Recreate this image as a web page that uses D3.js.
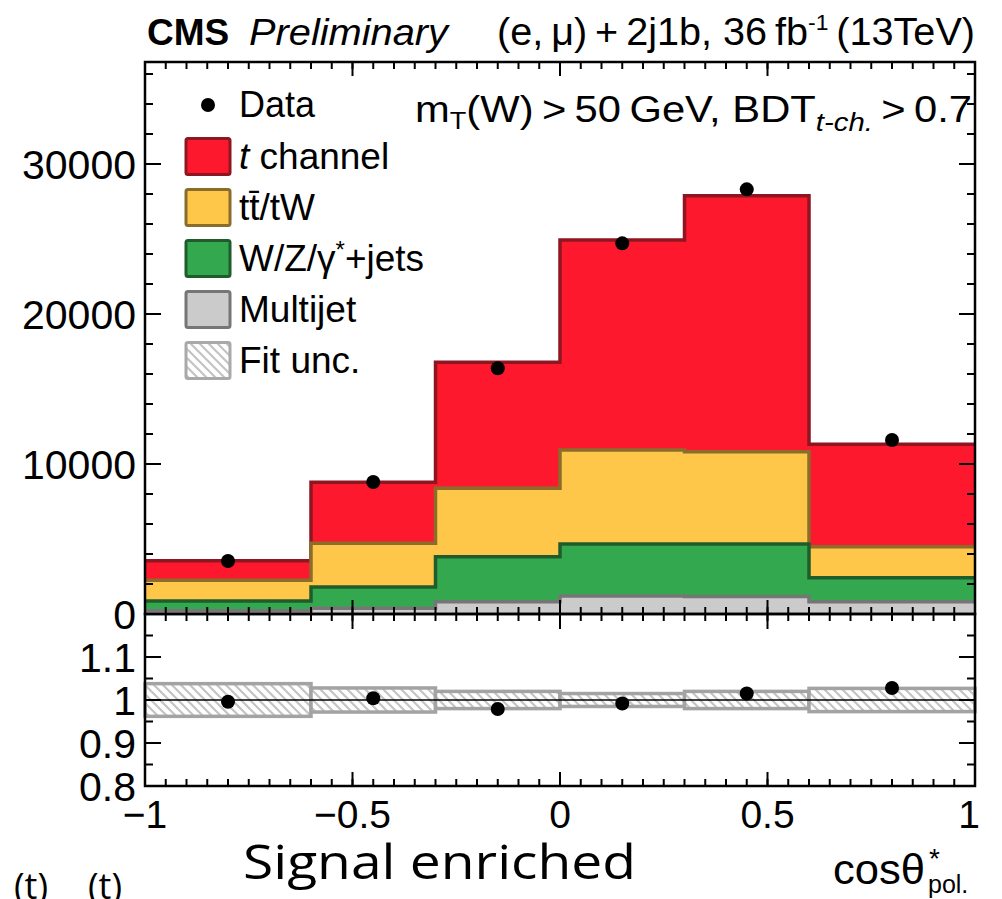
<!DOCTYPE html>
<html>
<head>
<meta charset="utf-8">
<title>cos theta pol - signal enriched</title>
<script src="https://d3js.org/d3.v7.min.js"></script>
<style>
  body { margin: 0; background: #fff; }
  text { font-family: "Liberation Sans", Arial, Helvetica, sans-serif; fill: #000; }
</style>
</head>
<body>
<div id="chart"></div>
<script>
"use strict"
// bin edges of cos theta*
const binEdges = [-1, -0.6, -0.3, 0, 0.3, 0.6, 1];
const dataX = [-0.8, -0.45, -0.15, 0.15, 0.45, 0.8];
// process yields per bin (not stacked)
const multijet = [220, 380, 820, 1200, 1160, 820];
const wzJets = [650, 1420, 3000, 3470, 3510, 1600];
const ttbarTW = [1380, 2910, 4560, 6260, 6150, 2070];
const tChannel = [1300, 4070, 8400, 14000, 17070, 6820];
const dataCounts = [3530, 8800, 16380, 24710, 28310, 11600];
// ratio panel
const ratioValues = [0.996, 1.004, 0.979, 0.992, 1.015, 1.028];
const ratioErr = [0.011, 0.006, 0.005, 0.004, 0.004, 0.006];
const fitUnc = [0.038, 0.028, 0.02, 0.015, 0.02, 0.027];
// ticks
const yTicksMain = [0, 10000, 20000, 30000];
const yTicksRatio = [0.8, 0.9, 1, 1.1];
const xTicks = [-1, -0.5, 0, 0.5, 1];

const W = 1002, H = 899;
const padL = 145, padR = 975, padTop = 62, padMid = 614, padBot = 786;

const svg = d3.select('#chart').append('svg')
  .attr('width', W).attr('height', H);
svg.append('rect').attr('width', W).attr('height', H).attr('fill', '#fff');

const x = d3.scaleLinear().domain([-1, 1]).range([padL, padR]);
const y = d3.scaleLinear().domain([0, 36800]).range([padMid, padTop]);
const yr = d3.scaleLinear().domain([0.8, 1.2]).range([padBot, padMid]);

const defs = svg.append('defs');
const hatch = defs.append('pattern').attr('id', 'hatch')
  .attr('patternUnits', 'userSpaceOnUse').attr('width', 9).attr('height', 9);
hatch.append('rect').attr('width', 9).attr('height', 9).attr('fill', '#fff');
hatch.append('path').attr('d', 'M0,0L9,9M-3,6L3,12M6,-3L12,3')
  .attr('stroke', '#c4c4c4').attr('stroke-width', 2.2);
defs.append('clipPath').attr('id', 'clipMain').append('rect')
  .attr('x', padL).attr('y', padTop).attr('width', padR - padL).attr('height', padMid - padTop);

// stacked histograms
const keys = ['multijet', 'wz', 'tt', 'tch'];
const rows = binEdges.slice(0, -1).map((e, i) => ({
  multijet: multijet[i], wz: wzJets[i], tt: ttbarTW[i], tch: tChannel[i]
}));
const stacked = d3.stack().keys(keys)(rows);
const styles = {
  multijet: { fill: '#cbcbcb', stroke: '#767676' },
  wz: { fill: '#34a84e', stroke: '#1f5c2c' },
  tt: { fill: '#fec74a', stroke: '#8b6d2b' },
  tch: { fill: '#fe182d', stroke: '#8e1620' }
};

const gMain = svg.append('g').attr('clip-path', 'url(#clipMain)');
const area = d3.area().curve(d3.curveStepAfter)
  .x(d => x(d.e)).y0(y(0)).y1(d => y(d.v));
const line = d3.line().curve(d3.curveStepAfter)
  .x(d => x(d.e)).y(d => y(d.v));

stacked.slice().reverse().forEach(layer => {
  const pts = binEdges.map((e, i) => ({ e: e, v: layer[Math.min(i, layer.length - 1)][1] }));
  gMain.append('path').attr('d', area(pts)).attr('fill', styles[layer.key].fill);
  gMain.append('path').attr('d', line(pts)).attr('fill', 'none')
    .attr('stroke', styles[layer.key].stroke).attr('stroke-width', 3.5);
});

// data points main
svg.append('g').selectAll('circle').data(dataCounts).join('circle')
  .attr('cx', (d, i) => x(dataX[i])).attr('cy', d => y(d)).attr('r', 7).attr('fill', '#000');

// ratio panel
const gR = svg.append('g');
gR.selectAll('rect').data(fitUnc).join('rect')
  .attr('x', (d, i) => x(binEdges[i]))
  .attr('width', (d, i) => x(binEdges[i + 1]) - x(binEdges[i]))
  .attr('y', d => yr(1 + d)).attr('height', d => yr(1 - d) - yr(1 + d))
  .attr('fill', 'url(#hatch)').attr('stroke', '#a3a3a3').attr('stroke-width', 3.5);
gR.append('line').attr('x1', padL).attr('x2', padR).attr('y1', yr(1)).attr('y2', yr(1))
  .attr('stroke', '#000').attr('stroke-width', 1.6);
gR.selectAll('line.err').data(ratioValues).join('line').attr('class', 'err')
  .attr('x1', (d, i) => x(dataX[i])).attr('x2', (d, i) => x(dataX[i]))
  .attr('y1', (d, i) => yr(d - ratioErr[i])).attr('y2', (d, i) => yr(d + ratioErr[i]))
  .attr('stroke', '#000').attr('stroke-width', 2);
gR.selectAll('circle').data(ratioValues).join('circle')
  .attr('cx', (d, i) => x(dataX[i])).attr('cy', d => yr(d)).attr('r', 7).attr('fill', '#000');

// axes: ticks pointing inwards on all four sides
function ticks(g, scale, vals, len, orient, pos) {
  vals.forEach(v => {
    const p = scale(v);
    if (orient === 'h') g.append('line').attr('x1', pos).attr('x2', pos + len).attr('y1', p).attr('y2', p);
    else g.append('line').attr('y1', pos).attr('y2', pos + len).attr('x1', p).attr('x2', p);
  });
}
const gAx = svg.append('g').attr('stroke', '#000').attr('stroke-width', 2);
const xMinor = d3.range(-1, 1.0001, 0.05).map(v => +v.toFixed(2));
const yMinorMain = d3.range(0, 36800, 2000);
const yMinorRatio = d3.range(0.8, 1.2001, 0.05).map(v => +v.toFixed(2));

ticks(gAx, y, yTicksMain, 16, 'h', padL);
ticks(gAx, y, yTicksMain, -16, 'h', padR);
ticks(gAx, y, yMinorMain, 8, 'h', padL);
ticks(gAx, y, yMinorMain, -8, 'h', padR);
ticks(gAx, x, xTicks, -14, 'v', padMid);
ticks(gAx, x, xTicks, 14, 'v', padTop);
ticks(gAx, x, xMinor, -7, 'v', padMid);
ticks(gAx, x, xMinor, 7, 'v', padTop);

ticks(gAx, yr, yTicksRatio, 16, 'h', padL);
ticks(gAx, yr, yTicksRatio, -16, 'h', padR);
ticks(gAx, yr, yMinorRatio, 8, 'h', padL);
ticks(gAx, yr, yMinorRatio, -8, 'h', padR);
ticks(gAx, x, xTicks, -14, 'v', padBot);
ticks(gAx, x, xTicks, 15, 'v', padMid);
ticks(gAx, x, xMinor, -7, 'v', padBot);
ticks(gAx, x, xMinor, 7, 'v', padMid);

svg.append('rect').attr('x', padL).attr('y', padTop).attr('width', padR - padL).attr('height', padMid - padTop)
  .attr('fill', 'none').attr('stroke', '#000').attr('stroke-width', 2.5);
svg.append('rect').attr('x', padL).attr('y', padMid).attr('width', padR - padL).attr('height', padBot - padMid)
  .attr('fill', 'none').attr('stroke', '#000').attr('stroke-width', 2.5);

// tick labels
const fmtMain = d3.format('d');
svg.append('g').selectAll('text').data(yTicksMain).join('text')
  .attr('x', 136).attr('y', d => y(d) + 15).attr('text-anchor', 'end')
  .style('font-size', '41px').text(d => fmtMain(d));
svg.append('g').selectAll('text').data(yTicksRatio).join('text')
  .attr('x', 136).attr('y', d => yr(d) + 15).attr('text-anchor', 'end')
  .style('font-size', '41px').text(d => d3.format('~g')(d));
svg.append('g').selectAll('text').data(xTicks).join('text')
  .attr('x', (d, i) => x(d) + (i === xTicks.length - 1 ? -6 : 0)).attr('y', 828).attr('text-anchor', 'middle')
  .style('font-size', '39px').text(d => d3.format('~g')(d).replace('-', '\u2212'));

// header
svg.append('text').attr('x', 147).attr('y', 45).style('font-size', '37px')
  .style('font-weight', 'bold').text('CMS');
svg.append('text').attr('x', 249).attr('y', 45).style('font-size', '37px')
  .style('font-style', 'italic').attr('textLength', 199).attr('lengthAdjust', 'spacingAndGlyphs')
  .text('Preliminary');
const hdr = svg.append('text').attr('x', 497).attr('y', 45)
  .attr('textLength', 478).attr('lengthAdjust', 'spacingAndGlyphs')
  .style('font-size', '38px');
hdr.append('tspan').text('(e,\u2009\u03bc)\u2009+\u20092j1b, 36\u2009fb');
hdr.append('tspan').attr('dy', -15).style('font-size', '22px').text('-1');
hdr.append('tspan').attr('dy', 15).text('\u2009(13TeV)');

// selection text
const sel = svg.append('text').attr('x', 415).attr('y', 122)
  .attr('textLength', 557).attr('lengthAdjust', 'spacingAndGlyphs')
  .style('font-size', '37px');
sel.append('tspan').text('m');
sel.append('tspan').attr('dy', 7).style('font-size', '24px').text('T');
sel.append('tspan').attr('dy', -7).text('(W)\u2009>\u200950\u2009GeV, BDT');
sel.append('tspan').attr('dy', 9).style('font-size', '26px').style('font-style', 'italic').text('t-ch.');
sel.append('tspan').attr('dy', -9).text('\u2009>\u20090.7');

// legend
const legItems = [
  { key: 'tch', label: 'channel' },
  { key: 'tt', label: 'tt\u0304/tW' },
  { key: 'wz', label: 'W/Z/\u03b3' },
  { key: 'multijet', label: 'Multijet' },
  { key: 'fit', label: 'Fit unc.' }
];
svg.append('circle').attr('cx', 208).attr('cy', 105).attr('r', 7).attr('fill', '#000');
svg.append('text').attr('x', 239).attr('y', 117).style('font-size', '36px').text('Data');
legItems.forEach((it, i) => {
  const cy = 156.5 + i * 51;
  const st = it.key === 'fit' ? { fill: 'url(#hatch)', stroke: '#a9a9a9' } : styles[it.key];
  svg.append('rect').attr('x', 186).attr('y', cy - 18).attr('width', 44).attr('height', 36)
    .attr('rx', 2).attr('fill', st.fill).attr('stroke', st.stroke).attr('stroke-width', 3);
  const t = svg.append('text').attr('x', 239).attr('y', cy + 12).style('font-size', '37px');
  if (it.key === 'tch') {
    t.append('tspan').style('font-style', 'italic').text('t');
    t.append('tspan').text(' ' + it.label);
  } else if (it.key === 'wz') {
    t.append('tspan').text(it.label);
    t.append('tspan').attr('dy', -13).style('font-size', '24px').text('*');
    t.append('tspan').attr('dy', 13).text('+jets');
  } else {
    t.text(it.label);
  }
});

// bottom labels
svg.append('text').attr('x', 243).attr('y', 879).style('font-family', '"Open Sans", sans-serif')
  .style('font-size', '48px').attr('textLength', 393).attr('lengthAdjust', 'spacingAndGlyphs')
  .text('Signal enriched');
svg.append('text').attr('x', 833).attr('y', 884).style('font-size', '42px')
  .attr('textLength', 92).attr('lengthAdjust', 'spacingAndGlyphs').text('cos\u03b8');
svg.append('text').attr('x', 929).attr('y', 868).style('font-size', '28px').text('*');
svg.append('text').attr('x', 928).attr('y', 893).style('font-size', '25px').text('pol.');
svg.append('text').attr('x', 14).attr('y', 899).style('font-family', '"Open Sans", sans-serif')
  .style('font-size', '36px').text('(t)');
svg.append('text').attr('x', 88).attr('y', 899).style('font-family', '"Open Sans", sans-serif')
  .style('font-size', '36px').text('(t)');
</script>
</body>
</html>
